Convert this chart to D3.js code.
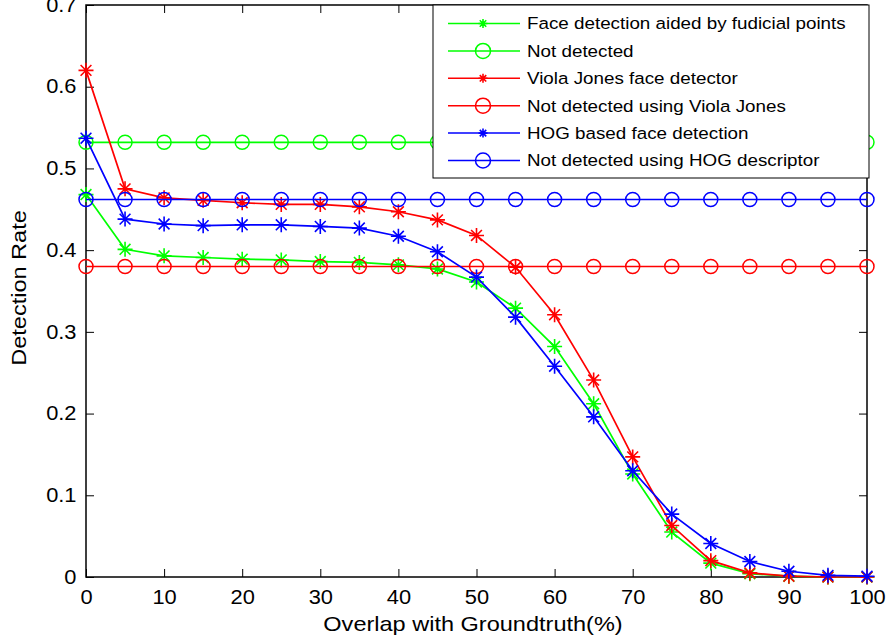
<!DOCTYPE html>
<html>
<head>
<meta charset="utf-8">
<script src="https://cdn.jsdelivr.net/npm/d3@7"></script>
<style>
  body { margin: 0; background: #fff; }
  text { font-family: "Liberation Sans", Arial, sans-serif; fill: #000; }
</style>
</head>
<body>
<div id="chart"></div>
<script>
// Chart size
var svgWidth = 891;
var svgHeight = 641;
var margin = { top: 5, right: 24, bottom: 64, left: 86 };
var width = svgWidth - margin.left - margin.right;
var height = svgHeight - margin.top - margin.bottom;

// Data
var overlap = [0, 5, 10, 15, 20, 25, 30, 35, 40, 45, 50, 55, 60, 65, 70, 75, 80, 85, 90, 95, 100];
var fiducialRate = [0.468, 0.401, 0.393, 0.391, 0.389, 0.388, 0.386, 0.385, 0.382, 0.377, 0.361,
  0.329, 0.282, 0.212, 0.126, 0.055, 0.017, 0.004, 0.001, 0, 0];
var violaRate = [0.620, 0.475, 0.464, 0.461, 0.458, 0.456, 0.456, 0.453, 0.447, 0.437, 0.418,
  0.379, 0.321, 0.241, 0.147, 0.063, 0.020, 0.005, 0.001, 0, 0];
var hogRate = [0.537, 0.438, 0.432, 0.430, 0.431, 0.431, 0.429, 0.427, 0.417, 0.398, 0.367,
  0.318, 0.258, 0.196, 0.130, 0.077, 0.041, 0.019, 0.007, 0.002, 0.001];
var notDetFiducial = 0.532;
var notDetViola = 0.380;
var notDetHog = 0.462;

var xTicks = [0, 10, 20, 30, 40, 50, 60, 70, 80, 90, 100];
var yTicks = [0, 0.1, 0.2, 0.3, 0.4, 0.5, 0.6, 0.7];

// Series in plotting order
var series = [
  { name: "Face detection aided by fudicial points", color: "#00ff00", marker: "star", values: fiducialRate },
  { name: "Not detected", color: "#00ff00", marker: "circle", values: overlap.map(() => notDetFiducial) },
  { name: "Viola Jones face detector", color: "#ff0000", marker: "star", values: violaRate },
  { name: "Not detected using Viola Jones", color: "#ff0000", marker: "circle", values: overlap.map(() => notDetViola) },
  { name: "HOG based face detection", color: "#0000ff", marker: "star", values: hogRate },
  { name: "Not detected using HOG descriptor", color: "#0000ff", marker: "circle", values: overlap.map(() => notDetHog) }
];

// the original's type is a bit wider than Arial
var textStretch = 1.12;

var svg = d3.select("#chart")
  .append("svg")
  .attr("width", svgWidth)
  .attr("height", svgHeight);

var chartGroup = svg.append("g")
  .attr("transform", `translate(${margin.left}, ${margin.top})`);

var xScale = d3.scaleLinear().domain([0, 100]).range([0, width]);
var yScale = d3.scaleLinear().domain([0, 0.7]).range([height, 0]);

// Box with inward ticks on all sides
function styleAxis(g) {
  g.select(".domain").remove();
  g.selectAll("line").attr("stroke", "#000").attr("stroke-width", 1);
  g.selectAll("text").style("font-size", "19.5px");
}

chartGroup.append("g")
  .attr("transform", `translate(0, ${height})`)
  .call(d3.axisBottom(xScale).tickValues(xTicks).tickSize(-8).tickPadding(13).tickFormat(d3.format("d")))
  .call(styleAxis);

chartGroup.append("g")
  .call(d3.axisTop(xScale).tickValues(xTicks).tickSize(-8).tickFormat(""))
  .call(styleAxis);

chartGroup.append("g")
  .call(d3.axisLeft(yScale).tickValues(yTicks).tickSize(-8).tickPadding(9.5).tickFormat(d => d === 0 ? "0" : d3.format(".1f")(d)))
  .call(styleAxis);

chartGroup.append("g")
  .attr("transform", `translate(${width}, 0)`)
  .call(d3.axisRight(yScale).tickValues(yTicks).tickSize(-8).tickFormat(""))
  .call(styleAxis);

chartGroup.append("rect")
  .attr("x", 0).attr("y", 0)
  .attr("width", width).attr("height", height)
  .attr("fill", "none")
  .attr("stroke", "#000")
  .attr("stroke-width", 1.5);

// Markers
function drawMarker(g, type, color, size) {
  if (type === "circle") {
    g.append("circle").attr("r", size)
      .attr("fill", "none").attr("stroke", color).attr("stroke-width", 1.5);
  } else {
    var d = size * 0.72;
    g.append("path")
      .attr("d", `M${-size},0H${size}M0,${-size}V${size}M${-d},${-d}L${d},${d}M${-d},${d}L${d},${-d}`)
      .attr("stroke", color).attr("stroke-width", 1.6).attr("fill", "none");
  }
}

var line = d3.line()
  .x((d, i) => xScale(overlap[i]))
  .y(d => yScale(d));

series.forEach(function(s) {
  var sg = chartGroup.append("g");
  sg.append("path")
    .datum(s.values)
    .attr("d", line)
    .attr("fill", "none")
    .attr("stroke", s.color)
    .attr("stroke-width", 1.7);
  sg.selectAll("g.mark")
    .data(s.values)
    .enter()
    .append("g")
    .attr("class", "mark")
    .attr("transform", (d, i) => `translate(${xScale(overlap[i])}, ${yScale(d)})`)
    .each(function() { drawMarker(d3.select(this), s.marker, s.color, s.marker === "circle" ? 7 : 7.5); });
});

// Legend
var legend = svg.append("g").attr("transform", "translate(433, 5)");
legend.append("rect")
  .attr("width", 436).attr("height", 173)
  .attr("fill", "#fff").attr("stroke", "#000").attr("stroke-width", 1);

var rows = legend.selectAll("g.row")
  .data(series)
  .enter()
  .append("g")
  .attr("class", "row")
  .attr("transform", (d, i) => `translate(0, ${18.5 + i * 27.4})`);

rows.append("line")
  .attr("x1", 15).attr("x2", 87)
  .attr("stroke", d => d.color).attr("stroke-width", 1.5);

rows.each(function(d) {
  var m = d3.select(this).append("g").attr("transform", "translate(50, 0)");
  drawMarker(m, d.marker, d.color, d.marker === "circle" ? 7.5 : 4.5);
});

rows.append("text")
  .attr("x", 94)
  .attr("dy", "0.35em")
  .style("font-size", "16.8px")
  .text(d => d.name);

// Axis titles
svg.append("text")
  .attr("transform", "translate(473, 631)")
  .style("text-anchor", "middle")
  .style("font-size", "21px")
  .text("Overlap with Groundtruth(%)");

svg.append("text")
  .attr("transform", "translate(26, 288) rotate(-90)")
  .style("text-anchor", "middle")
  .style("font-size", "21px")
  .text("Detection Rate");

// widen all labels a little
svg.selectAll("text").each(function() {
  var len = this.getComputedTextLength();
  if (len > 0) {
    d3.select(this)
      .attr("textLength", len * textStretch)
      .attr("lengthAdjust", "spacingAndGlyphs");
  }
});
</script>
</body>
</html>
